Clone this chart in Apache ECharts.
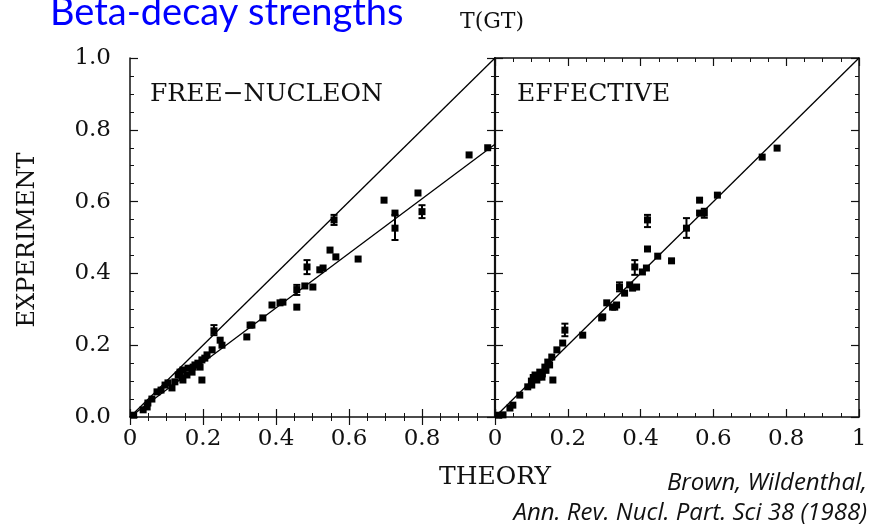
<!DOCTYPE html>
<html><head><meta charset="utf-8">
<script src="https://cdn.jsdelivr.net/npm/echarts@6/dist/echarts.min.js"></script>
<style>html,body{margin:0;padding:0;background:#fff}#c{width:873px;height:529px}</style>
</head><body><div id="c"></div>
<script>
// ---- tick labels ----
const xTickLabelsLeft = ['0', '0.2', '0.4', '0.6', '0.8', ''];
const xTickLabelsRight = ['0', '0.2', '0.4', '0.6', '0.8', '1'];
const yTickLabels = ['0.0', '0.2', '0.4', '0.6', '0.8', '1.0'];

// ---- reference lines ----
const refLineX = [0, 1];
const unitLineY = [0, 1];
const quenchedLineY = [0, 0.76];

// ---- FREE-NUCLEON panel: [theory, experiment] ----
const freePoints = [
  [0.01,0.005],[0.036,0.02],[0.047,0.028],[0.049,0.039],[0.06,0.05],[0.074,0.07],[0.085,0.075],
  [0.096,0.089],[0.104,0.095],[0.115,0.081],[0.123,0.098],[0.132,0.117],[0.137,0.125],
  [0.142,0.109],[0.145,0.103],[0.145,0.131],[0.156,0.117],[0.159,0.136],[0.17,0.125],
  [0.173,0.139],[0.178,0.145],[0.186,0.15],[0.192,0.139],[0.197,0.159],[0.205,0.164],
  [0.211,0.173],[0.225,0.187],[0.197,0.103],[0.247,0.214],[0.252,0.2],[0.32,0.223],
  [0.329,0.256],[0.334,0.256],[0.364,0.276],[0.389,0.312],[0.411,0.318],[0.419,0.32],
  [0.457,0.306],[0.479,0.365],[0.501,0.362],[0.52,0.41],[0.529,0.415],[0.548,0.465],
  [0.564,0.446],[0.625,0.44],[0.696,0.604],[0.726,0.568],[0.789,0.624],[0.929,0.73],[0.98,0.75]
];
// [theory, experiment, low, high]
const freeErrors = [
  [0.23,0.24,0.228,0.256],[0.457,0.355,0.34,0.368],[0.485,0.418,0.398,0.437],
  [0.559,0.549,0.535,0.563],[0.726,0.526,0.493,0.563],[0.8,0.572,0.554,0.59]
];

// ---- EFFECTIVE panel ----
const effPoints = [
  [0.01,0.005],[0.022,0.006],[0.041,0.025],[0.049,0.033],[0.068,0.061],[0.09,0.084],[0.101,0.089],
  [0.1,0.1],[0.105,0.11],[0.11,0.117],[0.115,0.103],[0.12,0.112],[0.123,0.125],[0.129,0.111],
  [0.13,0.12],[0.137,0.139],[0.14,0.13],[0.145,0.153],[0.15,0.145],[0.156,0.167],[0.159,0.103],
  [0.17,0.187],[0.186,0.206],[0.241,0.228],[0.293,0.276],[0.296,0.279],[0.307,0.318],
  [0.323,0.306],[0.329,0.306],[0.334,0.312],[0.356,0.345],[0.37,0.368],[0.378,0.359],
  [0.389,0.362],[0.405,0.404],[0.416,0.415],[0.419,0.468],[0.447,0.448],[0.485,0.435],
  [0.562,0.604],[0.562,0.568],[0.611,0.618],[0.734,0.724],[0.775,0.749]
];
const effErrors = [
  [0.192,0.242,0.225,0.26],[0.342,0.362,0.35,0.375],[0.384,0.418,0.396,0.437],
  [0.419,0.549,0.529,0.563],[0.526,0.526,0.499,0.554],[0.575,0.568,0.555,0.58]
];

const serif = 'DejaVu Serif';
const ink = '#111';

function tickAxis(extra) {
  return Object.assign({
    type: 'value', min: 0, max: 1, interval: 0.2,
    axisLine: { show: true, onZero: false, lineStyle: { color: ink, width: 1.5 } },
    axisTick: { show: true, inside: true, length: 8, lineStyle: { color: ink, width: 1.2 } },
    minorTick: { show: true, splitNumber: 4, length: 4, lineStyle: { color: ink, width: 1 } },
    splitLine: { show: false }, minorSplitLine: { show: false },
    axisLabel: { show: false }
  }, extra);
}
const labelStyle = { fontFamily: serif, fontSize: 23, color: ink };

function errRender(params, api) {
  const x = api.value(0), y = api.value(1), lo = api.value(2), hi = api.value(3);
  const pl = api.coord([x, lo]), ph = api.coord([x, hi]), p = api.coord([x, y]);
  const c = 3.5;
  return { type: 'group', children: [
    { type: 'line', shape: { x1: pl[0], y1: pl[1], x2: ph[0], y2: ph[1] }, style: { stroke: '#000', lineWidth: 2 } },
    { type: 'line', shape: { x1: pl[0]-c, y1: pl[1], x2: pl[0]+c, y2: pl[1] }, style: { stroke: '#000', lineWidth: 2 } },
    { type: 'line', shape: { x1: ph[0]-c, y1: ph[1], x2: ph[0]+c, y2: ph[1] }, style: { stroke: '#000', lineWidth: 2 } },
    { type: 'rect', shape: { x: p[0]-3.5, y: p[1]-3.5, width: 7, height: 7 }, style: { fill: '#000' } }
  ]};
}

const chart = echarts.init(document.getElementById('c'), null, { renderer: 'canvas' });
chart.setOption({
  animation: false,
  backgroundColor: '#fff',
  grid: [
    { left: 130, top: 58, width: 365, height: 359 },
    { left: 495, top: 58, width: 364, height: 359 }
  ],
  xAxis: [
    tickAxis({ gridIndex: 0, position: 'bottom',
      axisLabel: Object.assign({ show: true, margin: 11, formatter: v => xTickLabelsLeft[Math.round(v / 0.2)] }, labelStyle) }),
    tickAxis({ gridIndex: 0, position: 'top', axisLine: { show: false } }),
    tickAxis({ gridIndex: 1, position: 'bottom',
      axisLabel: Object.assign({ show: true, margin: 11, formatter: v => xTickLabelsRight[Math.round(v / 0.2)] }, labelStyle) }),
    tickAxis({ gridIndex: 1, position: 'top' })
  ],
  yAxis: [
    tickAxis({ gridIndex: 0, position: 'left',
      axisLabel: Object.assign({ show: true, margin: 19, formatter: v => yTickLabels[Math.round(v / 0.2)] }, labelStyle) }),
    tickAxis({ gridIndex: 0, position: 'right', axisLine: { show: true, onZero: false, lineStyle: { color: ink, width: 2.2 } } }),
    tickAxis({ gridIndex: 1, position: 'left', axisLine: { show: false } }),
    tickAxis({ gridIndex: 1, position: 'right' })
  ],
  series: [
    { type: 'line', xAxisIndex: 0, yAxisIndex: 0, symbol: 'none', silent: true,
      lineStyle: { color: '#000', width: 1.3 }, data: refLineX.map((x, i) => [x, unitLineY[i]]) },
    { type: 'line', xAxisIndex: 0, yAxisIndex: 0, symbol: 'none', silent: true,
      lineStyle: { color: '#000', width: 1.3 }, data: refLineX.map((x, i) => [x, quenchedLineY[i]]) },
    { type: 'line', xAxisIndex: 2, yAxisIndex: 2, symbol: 'none', silent: true,
      lineStyle: { color: '#000', width: 1.3 }, data: refLineX.map((x, i) => [x, unitLineY[i]]) },
    { type: 'scatter', xAxisIndex: 0, yAxisIndex: 0, symbol: 'rect', symbolSize: 7,
      itemStyle: { color: '#000', opacity: 1 }, data: freePoints },
    { type: 'scatter', xAxisIndex: 2, yAxisIndex: 2, symbol: 'rect', symbolSize: 7,
      itemStyle: { color: '#000', opacity: 1 }, data: effPoints },
    { type: 'custom', xAxisIndex: 0, yAxisIndex: 0, renderItem: errRender,
      encode: { x: 0, y: [1, 2, 3] }, data: freeErrors },
    { type: 'custom', xAxisIndex: 2, yAxisIndex: 2, renderItem: errRender,
      encode: { x: 0, y: [1, 2, 3] }, data: effErrors }
  ],
  graphic: [
    { type: 'text', x: 50, y: 32, style: { text: 'Beta-decay strengths', fill: '#0000ff',
      font: '38px Lato', align: 'left', verticalAlign: 'bottom' } },
    { type: 'text', x: 492, y: 22, style: { text: 'T(GT)', fill: ink, font: '22px "DejaVu Serif"',
      align: 'center', verticalAlign: 'middle' } },
    { type: 'text', x: 150, y: 94, style: { text: 'FREE\u2212NUCLEON', fill: ink, font: '25px "DejaVu Serif"',
      align: 'left', verticalAlign: 'middle' } },
    { type: 'text', x: 517, y: 94, style: { text: 'EFFECTIVE', fill: ink, font: '25px "DejaVu Serif"',
      align: 'left', verticalAlign: 'middle' } },
    { type: 'text', x: 28, y: 240, rotation: Math.PI / 2, style: { text: 'EXPERIMENT', fill: ink,
      font: '24px "DejaVu Serif"', align: 'center', verticalAlign: 'middle' } },
    { type: 'text', x: 495, y: 477, style: { text: 'THEORY', fill: ink, font: '25px "DejaVu Serif"',
      align: 'center', verticalAlign: 'middle' } },
    { type: 'text', x: 867, y: 483, style: { text: 'Brown, Wildenthal,', fill: ink,
      font: 'italic 24px "Open Sans"', align: 'right', verticalAlign: 'middle' } },
    { type: 'text', x: 867, y: 513, style: { text: 'Ann. Rev. Nucl. Part. Sci 38 (1988)', fill: ink,
      font: 'italic 24px "Open Sans"', align: 'right', verticalAlign: 'middle' } }
  ]
});
</script></body></html>
